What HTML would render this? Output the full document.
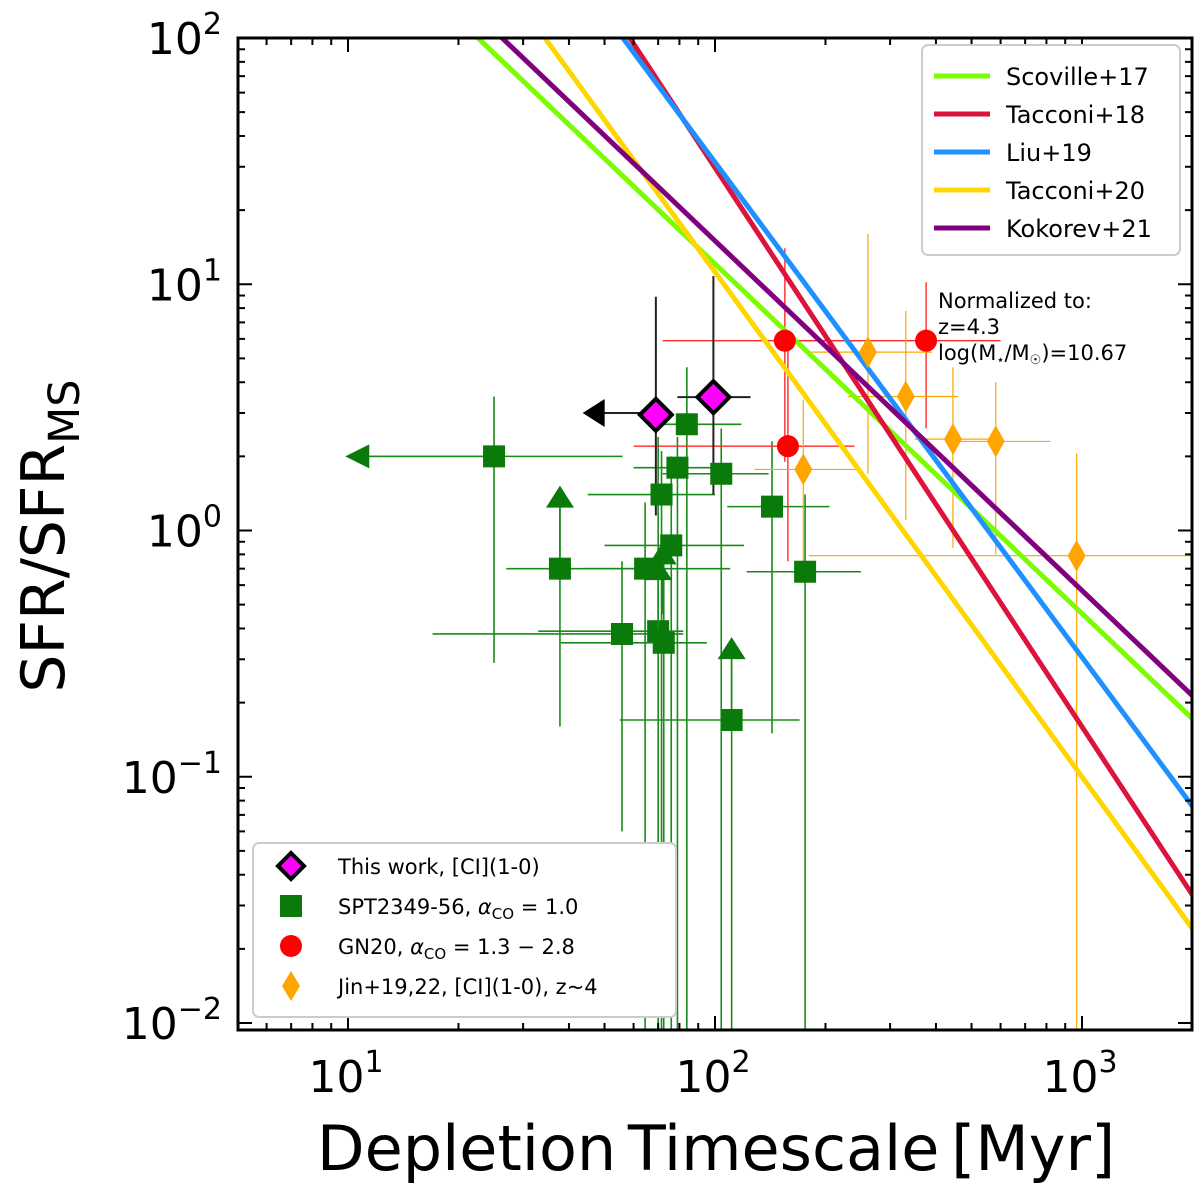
<!DOCTYPE html>
<html><head><meta charset="utf-8"><style>
body{margin:0;background:#fff}
svg{display:block;font-family:"DejaVu Sans","Liberation Sans",sans-serif}
</style></head><body>
<svg id="c" width="1200" height="1188"></svg>
<script>
// ---- data ----
const lineNames=["Scoville+17","Tacconi+18","Liu+19","Tacconi+20","Kokorev+21"];
const lineColors=["#7cfc00","#dc143c","#1e90ff","#ffd700","#800080"];
const lineAnchorT=[22.6,58.6,56.1,34.4,26.3];   // t where line hits y=100
const lineSlopes=[-1.42,-2.27,-2.01,-2.05,-1.42];
const thisT=[69,99], thisY=[2.95,3.48];
const thisYlo=[1.15,1.4], thisYhi=[8.9,10.8], thisXlo=[69,79], thisXhi=[69,125];
const limT=[47], limY=[3.0];
const sptT=[25,37.8,55.8,64.5,70,71.5,72.5,76,79,83.8,104,111,143,176];
const sptY=[2.0,0.70,0.38,0.70,0.39,1.4,0.35,0.87,1.8,2.7,1.7,0.17,1.25,0.68];
const sptXlo=[10.6,27,17,44,33,45,38,50,60,66,72,55,108,122];
const sptXhi=[56,72,82,110,82,100,95,120,105,118,140,170,205,250];
const sptYlo=[0.29,0.16,0.06,0.009,0.009,0.009,0.009,0.009,0.009,0.009,0.009,0.009,0.15,0.009];
const sptYhi=[3.5,1.36,0.75,1.3,2.4,2.1,0.75,2.0,2.4,4.6,2.6,0.33,2.3,1.4];
const triT=[37.8,72,70,111], triY=[1.36,0.8,0.69,0.33];
const gLimT=[10.6], gLimY=[2.0];
const gnT=[155,158,376], gnY=[5.9,2.2,5.9];
const gnXlo=[72,60,165], gnXhi=[240,240,600];
const gnYlo=[1.9,0.75,2.6], gnYhi=[14,5.4,10.2];
const jinT=[261,331,445,582,174,967], jinY=[5.3,3.5,2.35,2.3,1.77,0.79];
const jinXlo=[178,230,350,440,128,180], jinXhi=[390,460,580,820,250,2000];
const jinYlo=[1.7,1.1,0.85,0.8,0.75,0.0095], jinYhi=[16,7.8,4.6,4.0,3.4,2.05];
const xTicks=[1,2,3], yTicks=[-2,-1,0,1,2];

// ---- axes ----
const L=238,R=1192,T=38,B=1030;
const X=t=>348+367*(Math.log10(t)-1);
const Y=v=>38+246.25*(2-Math.log10(v));
const svg=document.getElementById('c');const NS='http://www.w3.org/2000/svg';
function mk(tag,a,p){const e=document.createElementNS(NS,tag);for(const k in a)e.setAttribute(k,a[k]);(p||svg).appendChild(e);return e;}
const defs=mk('defs',{});const cp=mk('clipPath',{id:'cp'},defs);mk('rect',{x:L,y:T,width:R-L,height:B-T},cp);
const g=mk('g',{'clip-path':'url(#cp)'});



function ebar(t,y,xl,xh,yl,yh,col,w){
  const e=mk('g',{},g);
  
  
  mk('line',{x1:X(xl),x2:X(xh),y1:Y(y),y2:Y(y),stroke:col,'stroke-width':w},e);
  mk('line',{x1:X(t),x2:X(t),y1:Y(yl),y2:Y(yh),stroke:col,'stroke-width':w},e);
}
for(let i=0;i<sptT.length;i++)ebar(sptT[i],sptY[i],sptXlo[i],sptXhi[i],sptYlo[i],sptYhi[i],'#1a8a1a',1.6);
for(let i=0;i<gnT.length;i++)ebar(gnT[i],gnY[i],gnXlo[i],gnXhi[i],gnYlo[i],gnYhi[i],'#ff2a2a',1.4);
for(let i=0;i<jinT.length;i++)ebar(jinT[i],jinY[i],jinXlo[i],jinXhi[i],jinYlo[i],jinYhi[i],'#ffa500',1.2);
for(let i=0;i<thisT.length;i++)ebar(thisT[i],thisY[i],thisXlo[i],thisXhi[i],thisYlo[i],thisYhi[i],'#222',2);
for(let i=0;i<lineNames.length;i++){
  const t0=3,t1=3000;const f=t=>100*Math.pow(t/lineAnchorT[i],lineSlopes[i]);
  const l=mk('line',{x1:X(t0),y1:Y(f(t0)),x2:X(t1),y2:Y(f(t1)),stroke:lineColors[i],'stroke-width':5},g);
  
  
}
for(let i=0;i<gLimT.length;i++){const x=X(gLimT[i]),y=Y(gLimY[i]);
  mk('line',{x1:x,x2:X(sptT[0]),y1:y,y2:y,stroke:'#1a8a1a','stroke-width':1.6},g);
  const p=mk('polygon',{points:`${x-12},${y} ${x+12},${y-12} ${x+12},${y+12}`,fill:'#0a7a0a'},g);
  
  }
for(let i=0;i<limT.length;i++){const x=X(limT[i]),y=Y(limY[i]);
  mk('line',{x1:x,x2:X(thisT[0]),y1:y,y2:y,stroke:'#222','stroke-width':2},g);
  const p=mk('polygon',{points:`${x-12},${y} ${x+10},${y-14} ${x+10},${y+14}`,fill:'#000'},g);
  
  }
for(let i=0;i<sptT.length;i++){const x=X(sptT[i]),y=Y(sptY[i]);
  const r=mk('rect',{x:x-11,y:y-11,width:22,height:22,fill:'#0a7a0a'},g);
  
  }
for(let i=0;i<triT.length;i++){const x=X(triT[i]),y=Y(triY[i]);
  mk('line',{x1:x,x2:x,y1:y,y2:y+60,stroke:'#1a8a1a','stroke-width':1.6},g);
  const p=mk('polygon',{points:`${x},${y-12} ${x-14},${y+10} ${x+14},${y+10}`,fill:'#0a7a0a'},g);
  
  }
for(let i=0;i<gnT.length;i++){const c=mk('circle',{cx:X(gnT[i]),cy:Y(gnY[i]),r:11,fill:'#ff0000'},g);
  
  }
for(let i=0;i<jinT.length;i++){const x=X(jinT[i]),y=Y(jinY[i]);
  const p=mk('polygon',{points:`${x},${y-16} ${x+9},${y} ${x},${y+16} ${x-9},${y}`,fill:'#ffa500'},g);
  
  }
for(let i=0;i<thisT.length;i++){const x=X(thisT[i]),y=Y(thisY[i]);
  const p=mk('polygon',{points:`${x},${y-16} ${x+16},${y} ${x},${y+16} ${x-16},${y}`,fill:'#ff00ff',stroke:'#000','stroke-width':4},g);
  
  }

const fr=mk('rect',{x:L,y:T,width:R-L,height:B-T,fill:'none',stroke:'#000','stroke-width':3});


function tick(x1,y1,x2,y2){mk('line',{x1,y1,x2,y2,stroke:'#000','stroke-width':2});}
for(let d=0;d<=3;d++)for(let m=1;m<10;m++){const t=m*Math.pow(10,d);const x=X(t);if(x<L+1||x>R-1)continue;
  const len=m==1?14:7;tick(x,B,x,B-len);tick(x,T,x,T+len);}
for(let d=-3;d<=2;d++)for(let m=1;m<10;m++){const v=m*Math.pow(10,d);const y=Y(v);if(y<T-1||y>B-1)continue;
  const len=m==1?14:7;tick(L,y,L+len,y);tick(R,y,R-len,y);}
for(const k of xTicks){const t=mk('text',{x:X(Math.pow(10,k))-2,y:1092,'font-size':44,'text-anchor':'middle'});
  
  
  t.innerHTML=`10<tspan dy="-20" font-size="30">${k}</tspan>`;}
for(const k of yTicks){const t=mk('text',{x:222,y:Y(Math.pow(10,k))+16,'font-size':44,'text-anchor':'end'});
  
  
  t.innerHTML=`10<tspan dy="-20" font-size="30">${k<0?'\u2212'+(-k):k}</tspan>`;}
const xt=mk('text',{x:716,y:1170,'font-size':62,'text-anchor':'middle','word-spacing':-8});


xt.textContent='Depletion Timescale [Myr]';
const yt=mk('text',{x:0,y:0,'font-size':60,'text-anchor':'middle',transform:'translate(64,536) rotate(-90)'});


yt.innerHTML='SFR/SFR<tspan dy="15" font-size="43">MS</tspan>';

const lg=mk('g',{});


mk('rect',{x:922,y:45,width:258,height:210,rx:6,fill:'#fff',stroke:'#ccc','stroke-width':2},lg);
for(let i=0;i<lineNames.length;i++){const y=76+38*i;
  mk('line',{x1:934,x2:990,y1:y,y2:y,stroke:lineColors[i],'stroke-width':5},lg);
  const t=mk('text',{x:1006,y:y+9,'font-size':24},lg);
  
  
  t.textContent=lineNames[i];}
const nt=mk('text',{x:938,y:308,'font-size':21});


nt.innerHTML='<tspan x="938">Normalized to:</tspan><tspan x="938" dy="26">z=4.3</tspan><tspan x="938" dy="26">log(M<tspan font-size="13" dy="4">\u22c6</tspan><tspan dy="-4">/M</tspan><tspan font-size="13" dy="4">\u2609</tspan><tspan dy="-4">)=10.67</tspan></tspan>';

const dl=mk('g',{});


mk('rect',{x:253,y:843,width:423,height:174,rx:6,fill:'#fff',stroke:'#ccc','stroke-width':2},dl);
const labs=['This work, [CI](1-0)','SPT2349-56, <tspan font-style="italic">α</tspan><tspan font-size="15" dy="5">CO</tspan><tspan dy="-5"> = 1.0</tspan>','GN20, <tspan font-style="italic">α</tspan><tspan font-size="15" dy="5">CO</tspan><tspan dy="-5"> = 1.3 − 2.8</tspan>','Jin+19,22, [CI](1-0), z~4'];
for(let i=0;i<4;i++){const y=866+40*i,x=291;
  if(i==0)mk('polygon',{points:`${x},${y-13} ${x+13},${y} ${x},${y+13} ${x-13},${y}`,fill:'#ff00ff',stroke:'#000','stroke-width':4},dl);
  if(i==1)mk('rect',{x:x-11,y:y-11,width:22,height:22,fill:'#0a7a0a'},dl);
  if(i==2)mk('circle',{cx:x,cy:y,r:11,fill:'#ff0000'},dl);
  if(i==3)mk('polygon',{points:`${x},${y-15} ${x+9},${y} ${x},${y+15} ${x-9},${y}`,fill:'#ffa500'},dl);
  const t=mk('text',{x:338,y:y+8,'font-size':21},dl);
  
  
  t.innerHTML=labs[i];}
</script>
</body></html>
